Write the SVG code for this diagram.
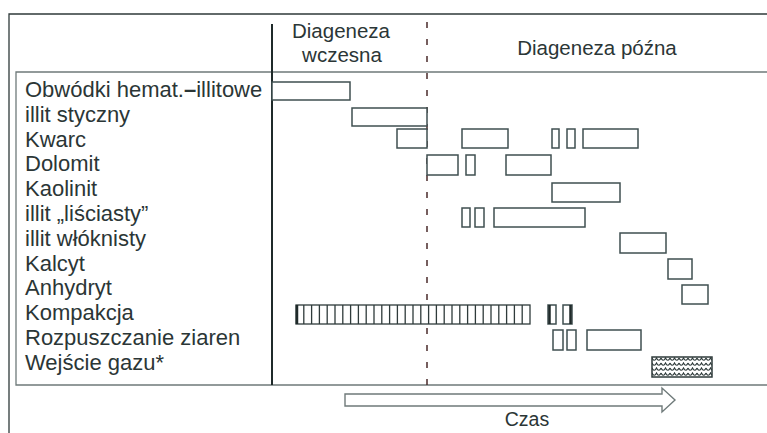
<svg xmlns="http://www.w3.org/2000/svg" width="767" height="433" viewBox="0 0 767 433">
<style>
  .lbl{font-family:"Liberation Sans",Arial,sans-serif;font-size:22px;fill:#2b3636}
  .hdr{font-family:"Liberation Sans",Arial,sans-serif;font-size:20.5px;fill:#2b3636;text-anchor:middle}
  .czas{font-family:"Liberation Sans",Arial,sans-serif;font-size:19.5px;fill:#2b3636;text-anchor:middle}
  .bar{fill:#fff;stroke:#3f4f50;stroke-width:1.5}
  .frame{fill:none;stroke:#2f3a3a;stroke-width:1.3}
  .inner{fill:none;stroke:#6f7a7a;stroke-width:1.3}
  .hl{stroke:#2f3b3b;stroke-width:1.3}
</style>
<defs>
  <pattern id="wave" x="652" y="357" width="9" height="5" patternUnits="userSpaceOnUse">
    <path d="M0,1 Q2.25,5.5 4.5,1 Q6.75,5.5 9,1" fill="none" stroke="#2f3b3b" stroke-width="1.2"/>
  </pattern>
</defs>
<rect width="767" height="433" fill="#fff"/>
<g id="frame">
  <path class="frame" d="M9,433 V14 H767"/>
  <path class="inner" d="M767,72 H16 V385 H767"/>
  <line x1="272" y1="24" x2="272" y2="385" stroke="#1f2a2a" stroke-width="2"/>
  <line x1="427" y1="22" x2="427" y2="385" stroke="#4a2a2a" stroke-width="1.5" stroke-dasharray="6,11"/>
</g>
<g id="headers">
  <text class="hdr" x="341" y="38">Diageneza</text>
  <text class="hdr" x="342" y="62">wczesna</text>
  <text class="hdr" x="597" y="55">Diageneza późna</text>
</g>
<g id="labels">
  <text class="lbl" x="25" y="97">Obwódki hemat.<tspan font-weight="bold">–</tspan>illitowe</text>
  <text class="lbl" x="25" y="121.8">illit styczny</text>
  <text class="lbl" x="25" y="146.6">Kwarc</text>
  <text class="lbl" x="25" y="171.4">Dolomit</text>
  <text class="lbl" x="25" y="196.2">Kaolinit</text>
  <text class="lbl" x="25" y="221">illit „liściasty”</text>
  <text class="lbl" x="25" y="245.8">illit włóknisty</text>
  <text class="lbl" x="25" y="270.6">Kalcyt</text>
  <text class="lbl" x="25" y="295.4">Anhydryt</text>
  <text class="lbl" x="25" y="320.2">Kompakcja</text>
  <text class="lbl" x="25" y="345">Rozpuszczanie ziaren</text>
  <text class="lbl" x="25" y="369.8">Wejście gazu*</text>
</g>
<g id="obwodki"><rect class="bar" x="272" y="82" width="78" height="18"/></g>
<g id="illit-styczny"><rect class="bar" x="352" y="108" width="75" height="18"/></g>
<g id="kwarc">
  <rect class="bar" x="397" y="129" width="30" height="19"/>
  <rect class="bar" x="462" y="129" width="46" height="19"/>
  <rect class="bar" x="552" y="129" width="7" height="19"/>
  <rect class="bar" x="567" y="129" width="8" height="19"/>
  <rect class="bar" x="583" y="129" width="55" height="19"/>
</g>
<g id="dolomit">
  <rect class="bar" x="427" y="155" width="31" height="20"/>
  <rect class="bar" x="466" y="155" width="9" height="20"/>
  <rect class="bar" x="506" y="155" width="45" height="20"/>
</g>
<g id="kaolinit"><rect class="bar" x="552" y="183" width="68" height="19"/></g>
<g id="illit-lisciasty">
  <rect class="bar" x="462" y="208" width="8" height="19"/>
  <rect class="bar" x="475" y="208" width="9" height="19"/>
  <rect class="bar" x="494" y="208" width="91" height="19"/>
</g>
<g id="illit-wloknisty"><rect class="bar" x="620" y="233" width="46" height="20"/></g>
<g id="kalcyt"><rect class="bar" x="668" y="259" width="24" height="20"/></g>
<g id="anhydryt"><rect class="bar" x="682" y="285" width="26" height="19"/></g>
<g id="kompakcja">
  <rect x="296" y="305" width="234" height="19" fill="#fff" stroke="#2f3b3b" stroke-width="1.3"/>
  <path class="hl" d="M303.8,305V324M311.6,305V324M319.4,305V324M327.2,305V324M335,305V324M342.8,305V324M350.6,305V324M358.4,305V324M366.2,305V324M374,305V324M381.8,305V324M389.6,305V324M397.4,305V324M405.2,305V324M413,305V324M420.8,305V324M428.6,305V324M436.4,305V324M444.2,305V324M452,305V324M459.8,305V324M467.6,305V324M475.4,305V324M483.2,305V324M491,305V324M498.8,305V324M506.6,305V324M514.4,305V324M522.2,305V324"/>
  <line x1="297" y1="305" x2="297" y2="324" stroke="#1f2a2a" stroke-width="2.5"/>
  <rect class="bar" x="548" y="305" width="8" height="19"/>
  <line x1="549.5" y1="305" x2="549.5" y2="324" stroke="#1f2a2a" stroke-width="2.5"/>
  <rect class="bar" x="563" y="305" width="9" height="19"/>
  <line x1="570.5" y1="305" x2="570.5" y2="324" stroke="#1f2a2a" stroke-width="2.5"/>
</g>
<g id="rozpuszczanie">
  <rect class="bar" x="553" y="330" width="10" height="20"/>
  <rect class="bar" x="567" y="330" width="9" height="20"/>
  <rect class="bar" x="587" y="330" width="54" height="20"/>
</g>
<g id="wejscie-gazu">
  <rect x="652" y="357" width="60" height="20" fill="#fff"/>
  <rect x="652" y="357" width="60" height="20" fill="url(#wave)" stroke="#2f3b3b" stroke-width="1.5"/>
</g>
<g id="connectors">
  <path d="M345,394 H662 V388 L675,400 L662,412 V406 H345 Z" fill="#fff" stroke="#6f7a7a" stroke-width="1.4"/>
  <text class="czas" x="527" y="426">Czas</text>
</g>
</svg>
